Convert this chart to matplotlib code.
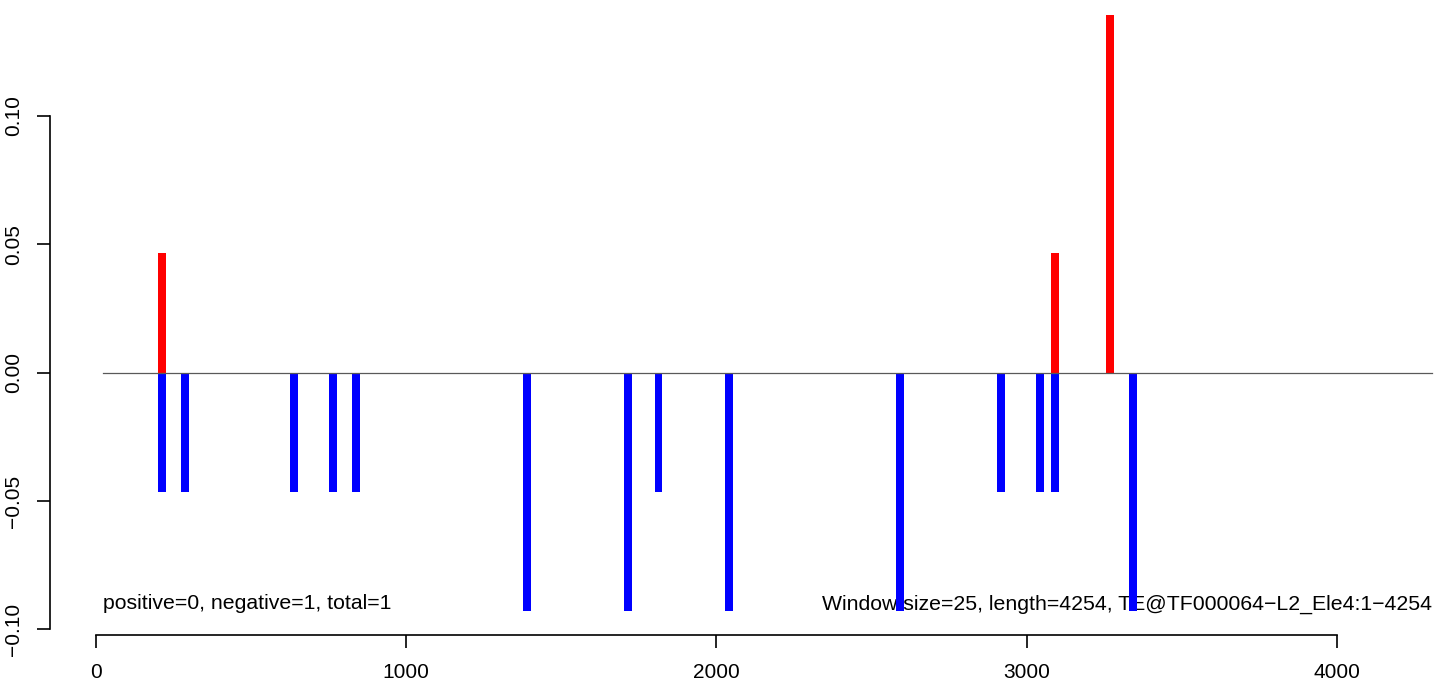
import matplotlib
matplotlib.use("Agg")
import matplotlib.pyplot as plt

plt.rcParams["font.family"] = ["Liberation Sans", "DejaVu Sans"]

# window positions and scores
blue_x = [214, 288, 639, 765, 839, 1390, 1715, 1814, 2040, 2592, 2917, 3043, 3092, 3343]
blue_y = [-0.0465, -0.0465, -0.0465, -0.0465, -0.0465, -0.093, -0.093, -0.0465,
          -0.093, -0.093, -0.0465, -0.0465, -0.0465, -0.093]
red_x = [214, 3092, 3269]
red_y = [0.0465, 0.0465, 0.1395]
WIN = 25
LINE_END = 4306
xticks = [0, 1000, 2000, 3000, 4000]
yticks = [-0.10, -0.05, 0.00, 0.05, 0.10]
left_note = "positive=0, negative=1, total=1"
right_note = "Window size=25, length=4254, TE@TF000064\u2212L2_Ele4:1\u22124254"

W, H = 1444, 687
fig = plt.figure(figsize=(W / 100, H / 100), dpi=100)
ax = fig.add_axes([50 / W, (H - 635) / H, 1 - 50 / W, 635 / H])
ax.set_xlim(-147.3, 4345)
ax.set_ylim(-0.1022, 0.1452)

ax.text(WIN, -0.0901, left_note, fontsize=15.3, ha="left", va="center", zorder=1)
ax.text(LINE_END, -0.0901, right_note, fontsize=15.3, ha="right", va="center", zorder=1)

ax.bar(red_x, red_y, width=WIN, color="#ff0000", linewidth=0, zorder=2)
ax.bar(blue_x, blue_y, width=WIN, color="#0000ff", linewidth=0, zorder=2)
ax.plot([WIN, LINE_END], [0, 0], color="0.35", lw=0.9, zorder=3)

for s in ["top", "right"]:
    ax.spines[s].set_visible(False)
ax.spines["left"].set_bounds(-0.10, 0.10)
ax.spines["bottom"].set_bounds(0, 4000)
ax.spines["left"].set_linewidth(1.2)
ax.spines["bottom"].set_linewidth(1.2)
ax.set_xticks(xticks)
ax.set_xticklabels([str(v) for v in xticks])
ax.set_yticks(yticks)
ax.set_yticklabels(["\u22120.10", "\u22120.05", "0.00", "0.05", "0.10"],
                   rotation=90, va="center")
ax.tick_params(axis="both", length=9.5, width=1.2, labelsize=15)
ax.tick_params(axis="x", pad=11)
ax.tick_params(axis="y", pad=10)
ax.patch.set_visible(False)

fig.savefig("out.png", dpi=100)
